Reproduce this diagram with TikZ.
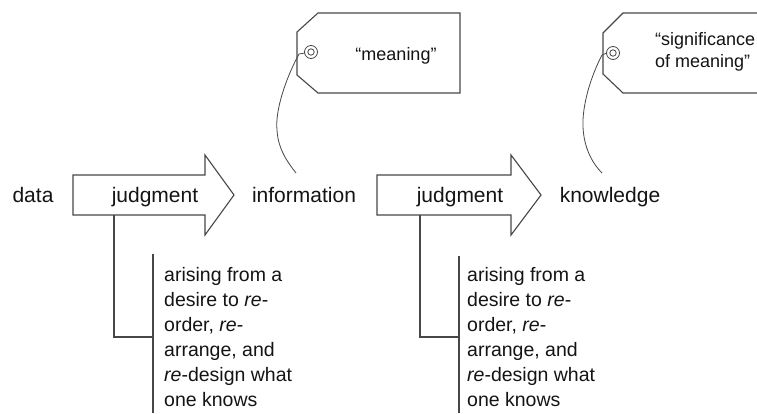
\documentclass[tikz,border=0pt]{standalone}
\usepackage{fontspec}
\setmainfont{Liberation Sans}
\begin{document}
\begin{tikzpicture}[x=1pt,y=-1pt,
  line/.style={draw=black!72,line width=1.1pt,line join=miter},
  thin line/.style={draw=black!72,line width=0.8pt},
  word/.style={text=black!92,inner sep=0pt,anchor=base,font=\fontsize{21}{25}\selectfont},
  note/.style={text=black!92,inner sep=0pt,anchor=base west,font=\fontsize{19.5}{25}\selectfont},
  tagtext/.style={text=black!92,inner sep=0pt,font=\fontsize{18}{22}\selectfont}]
\useasboundingbox (0,0) rectangle (757,413);
\clip (0,0) rectangle (757,413);
\fill[white] (0,0) rectangle (757,413);

% ---- first judgment arrow ----
\coordinate (a1tl) at (73,175);
\coordinate (a1bl) at (73,215);
\draw[line] (a1tl) -- (205,175) -- (205,155) -- (234,195) -- (205,235) -- (205,215) -- (a1bl) -- cycle;
\node[word] (j1) at (155,202) {judgment};
\node[word] (data) at (33,202) {data};
\node[word] (info) at (304,202) {information};

% ---- second judgment arrow ----
\coordinate (a2tl) at (377,175);
\coordinate (a2bl) at (377,215);
\draw[line] (a2tl) -- (511,175) -- (511,155) -- (541,195) -- (511,235) -- (511,215) -- (a2bl) -- cycle;
\node[word] (j2) at (460,202) {judgment};
\node[word] (know) at (610,202) {knowledge};

% ---- annotations below the arrows ----
\node[note] (n1) at (164,281) {\parbox[t]{150pt}{\raggedright arising from a\\ desire to \textit{re}-\\ order, \textit{re}-\\ arrange, and\\ \textit{re}-design what\\ one knows}};
\node[note] (n2) at (467,281) {\parbox[t]{150pt}{\raggedright arising from a\\ desire to \textit{re}-\\ order, \textit{re}-\\ arrange, and\\ \textit{re}-design what\\ one knows}};

\coordinate (b1top) at (153,254);
\coordinate (b1bot) at (153,413);
\coordinate (s1top) at (114,215);
\coordinate (s1bend) at (114,337);
\draw[line] (b1top) -- (b1bot);
\draw[line] (s1top) -- (s1bend) -- (s1bend -| b1top);

\coordinate (b2top) at (459,256);
\coordinate (b2bot) at (459,413);
\coordinate (s2top) at (420,215);
\coordinate (s2bend) at (420,337);
\draw[line] (b2top) -- (b2bot);
\draw[line] (s2top) -- (s2bend) -- (s2bend -| b2top);

% ---- tag: meaning ----
\draw[line] (318,13) -- (460,13) -- (460,93) -- (318,93) -- (297,75) -- (297,32) -- cycle;
\coordinate (h1) at (311,52);
\draw[thin line] (h1) circle (6.5);
\draw[thin line] (h1) circle (3.2);
\node[tagtext,anchor=base] (t1) at (396,60) {“meaning”};
\coordinate (e1) at (296,173);
\draw[thin line] (305,53) -- (299,54) .. controls (286,78) and (275,110) .. (277,130) .. controls (278,150) and (289,164) .. (e1);

% ---- tag: significance of meaning ----
\draw[line] (623,13) -- (800,13) -- (800,93) -- (623,93) -- (603,74) -- (603,33) -- cycle;
\coordinate (h2) at (613,53);
\draw[thin line] (h2) circle (6.5);
\draw[thin line] (h2) circle (3.2);
\node[tagtext,anchor=base west] (t2) at (655,45) {\parbox[t]{140pt}{\raggedright “significance\\ of meaning”}};
\coordinate (e2) at (602,173);
\draw[thin line] (607,53) -- (602,55) .. controls (591,76) and (582,105) .. (583,127) .. controls (584,150) and (594,165) .. (e2);
\end{tikzpicture}
\end{document}
